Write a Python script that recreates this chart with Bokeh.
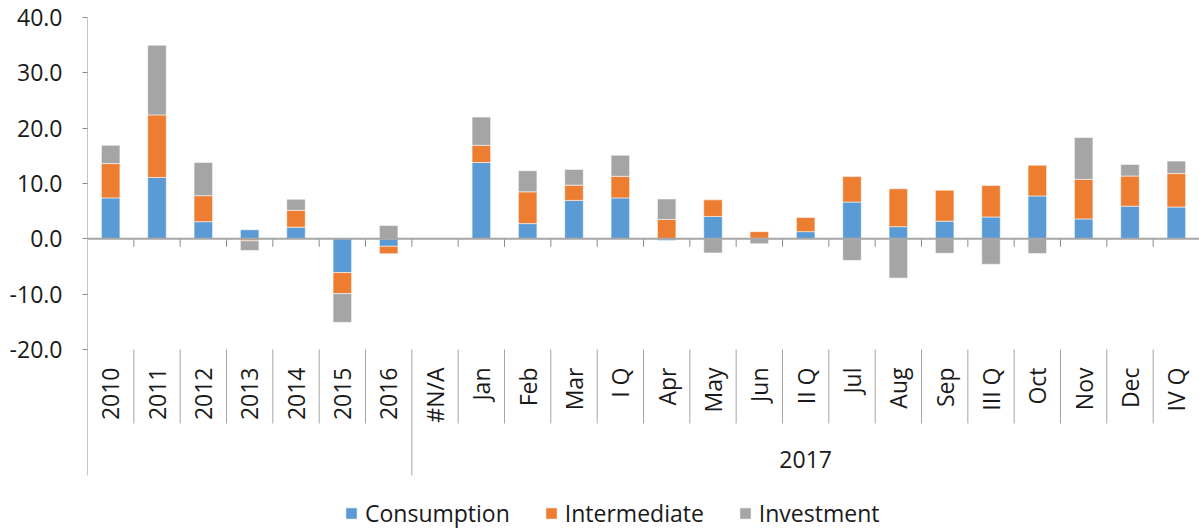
import math
from bokeh.plotting import figure
from bokeh.models import Range1d, FixedTicker, NumeralTickFormatter, Legend, LegendItem, ColumnDataSource, Span
from bokeh.core.properties import value
from bokeh.embed import file_html
from bokeh.resources import INLINE

# ---------------- data ----------------
categories = ["2010", "2011", "2012", "2013", "2014", "2015", "2016", "#N/A",
              "Jan", "Feb", "Mar", "I Q", "Apr", "May", "Jun", "II Q",
              "Jul", "Aug", "Sep", "III Q", "Oct", "Nov", "Dec", "IV Q"]
consumption = [7.4, 11.1, 3.1, 1.65, 2.1, -6.1, -1.35, None,
               13.8, 2.75, 6.95, 7.4, -0.3, 4.05, 0.1, 1.3,
               6.65, 2.2, 3.2, 3.95, 7.75, 3.6, 5.9, 5.75]
intermediate = [6.2, 11.3, 4.7, -0.35, 3.05, -3.8, -1.35, None,
                3.1, 5.75, 2.75, 3.9, 3.5, 3.0, 1.2, 2.55,
                4.6, 6.85, 5.6, 5.7, 5.55, 7.15, 5.45, 6.05]
investment = [3.3, 12.6, 6.0, -1.75, 2.0, -5.2, 2.4, None,
              5.1, 3.8, 2.85, 3.8, 3.7, -2.55, -0.9, 0.0,
              -3.9, -7.1, -2.6, -4.6, -2.65, 7.55, 2.1, 2.25]
series_names = ["Consumption", "Intermediate", "Investment"]
group_labels = ["", "2017"]
group_sizes = [7, 17]
y_ticks = [-20, -10, 0, 10, 20, 30, 40]

colors = ["#5B9BD5", "#ED7D31", "#A5A5A5"]
FONT = "Open Sans"
FS = "23px"

# ---------------- geometry ----------------
W, H = 1199, 529
LEFT, TOP = 87, 17
PX = 332 / 60.0            # pixels per unit
frame_h = H - TOP
y_top = 40
y_bot = y_top - frame_h / PX
n = len(categories)

p = figure(width=W, height=H, x_range=Range1d(0, n), y_range=Range1d(y_bot, y_top),
           output_backend="svg", toolbar_location=None, x_axis_location=None,
           min_border_left=LEFT, min_border_right=0, min_border_top=TOP, min_border_bottom=0)
p.grid.visible = False
p.outline_line_color = None
p.background_fill_color = "white"
p.border_fill_color = "white"

ax = p.yaxis[0]
ax.ticker = FixedTicker(ticks=y_ticks)
ax.formatter = NumeralTickFormatter(format="0.0")
ax.axis_line_color = None
ax.major_tick_in = 0
ax.major_tick_out = 5
ax.major_tick_line_color = "#8C8C8C"
ax.minor_tick_line_color = None
ax.major_label_text_font = FONT
ax.major_label_text_font_size = FS
ax.major_label_text_color = "#1A1A1A"
ax.major_label_standoff = 20

# stacked bars (positive and negative stacked separately)
pos = [0.0] * n
neg = [0.0] * n
renderers = []
xs = [i + 0.5 for i in range(n)]
for name, vals, col in zip(series_names, [consumption, intermediate, investment], colors):
    bx, bt, bb = [], [], []
    for i, v in enumerate(vals):
        if v is None or v == 0:
            continue
        if v > 0:
            b, t = pos[i], pos[i] + v
            pos[i] = t
        else:
            b, t = neg[i], neg[i] + v
            neg[i] = t
        bx.append(xs[i]); bt.append(t); bb.append(b)
    src = ColumnDataSource(dict(x=bx, top=bt, bottom=bb))
    r = p.vbar(x="x", top="top", bottom="bottom", width=0.4, source=src,
               fill_color=col, line_color="white", line_alpha=0.55, line_width=1)
    renderers.append(r)

# zero (category) axis line with boundary ticks
p.add_layout(Span(location=0, dimension="width", line_color="#A6A6A6", line_width=2))
bounds = list(range(1, n + 1))
p.segment(x0=bounds, x1=bounds, y0=[0] * len(bounds), y1=[-8 / PX] * len(bounds),
          line_color="#8C8C8C", line_width=1)

# vertical value-axis line (extends down through the category label area)
long_bottom = -20 - 126 / PX
short_bottom = -20 - 74 / PX
p.segment(x0=[0], x1=[0], y0=[y_top], y1=[long_bottom], line_color="#8C8C8C", line_width=1)

# category separators below the plot
group_edges = []
acc = 0
for s in group_sizes:
    acc += s
    group_edges.append(acc)
short_x = [b for b in range(1, n) if b not in group_edges]
long_x = [b for b in group_edges]
p.segment(x0=short_x, x1=short_x, y0=[-20] * len(short_x), y1=[short_bottom] * len(short_x),
          line_color="#A6A6A6", line_width=1)
p.segment(x0=long_x, x1=long_x, y0=[-20] * len(long_x), y1=[long_bottom] * len(long_x),
          line_color="#A6A6A6", line_width=1)

# category labels (rotated)
p.text(x=xs, y=[-20 - 18 / PX] * n, text=categories, angle=math.pi / 2,
       text_align="right", text_baseline="middle", text_font=value(FONT),
       text_font_size=FS, text_color="#1A1A1A")

# group labels
gx, gl = [], []
start = 0
for lab, s in zip(group_labels, group_sizes):
    if lab:
        gx.append(start + s / 2.0); gl.append(lab)
    start += s
p.text(x=gx, y=[-20 - 110 / PX] * len(gx), text=gl, text_align="center",
       text_baseline="middle", text_font=value(FONT), text_font_size=FS,
       text_color="#1A1A1A")

# legend
legend = Legend(items=[LegendItem(label=nm, renderers=[r]) for nm, r in zip(series_names, renderers)],
                orientation="horizontal", location=(257, 0),
                glyph_width=14, glyph_height=14, label_standoff=7, spacing=34,
                padding=0, margin=0, border_line_color=None, background_fill_alpha=0,
                label_text_font=FONT, label_text_font_size=FS, label_text_color="#1A1A1A")
p.add_layout(legend)

open("out.html", "w").write(file_html(p, INLINE))
